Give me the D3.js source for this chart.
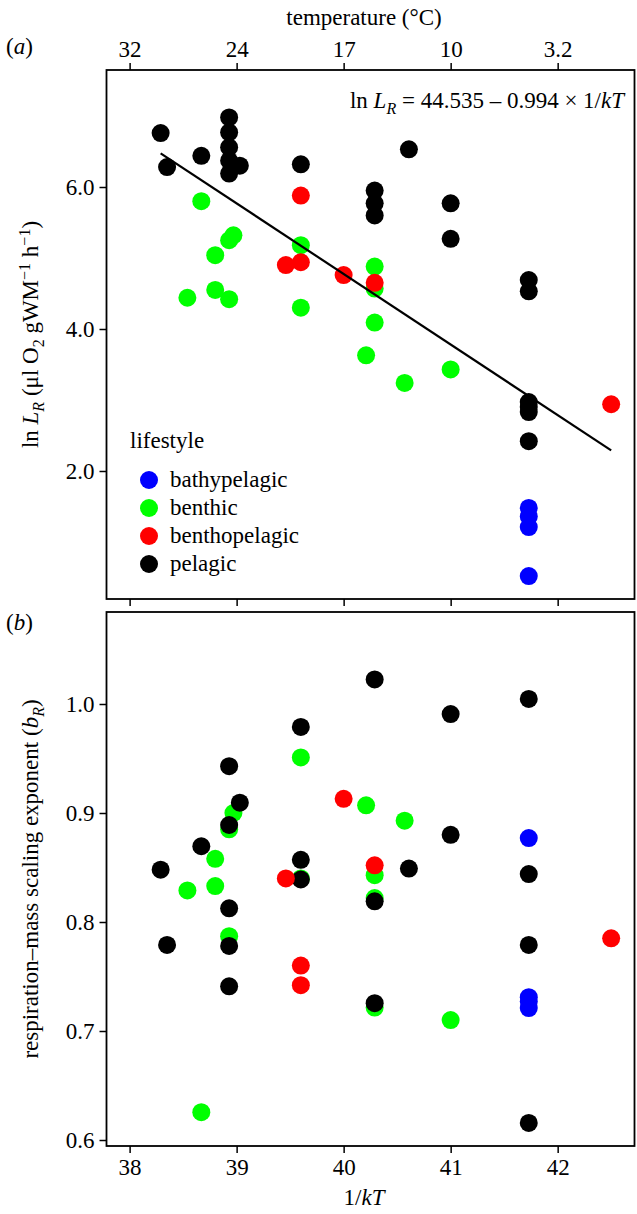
<!DOCTYPE html>
<html><head><meta charset="utf-8">
<script src="https://cdn.jsdelivr.net/npm/d3@7"></script>
<style>body{margin:0;background:#fff}svg{display:block}text{font-family:"Liberation Serif","Times New Roman",serif;fill:#000}</style>
</head><body>
<script>
// ---------- data ----------
const lifestyles = ["bathypelagic","benthic","benthopelagic","pelagic"];
const lifestyleColors = ["#0000ff","#00ff00","#ff0000","#000000"];
const xTicks = [38,39,40,41,42];
const tempTickLabels = ["32","24","17","10","3.2"];
const lnTicks = [2.0,4.0,6.0];
const bTicks = [0.6,0.7,0.8,0.9,1.0];
const fitIntercept = 44.535, fitSlope = -0.994;

// panel a: ln L_R
const bathyXA = [41.73,41.73,41.73,41.73];
const bathyLnL = [1.48,1.36,1.21,0.52];
const benthicXA = [38.54,38.67,38.80,38.80,38.93,38.93,38.97,39.60,39.60,40.21,40.29,40.29,40.29,40.57,41.00];
const benthicLnL = [4.44,5.80,5.04,4.55,5.25,4.42,5.32,5.18,4.30,3.63,4.88,4.57,4.09,3.24,3.43];
const benthoXA = [39.46,39.60,39.60,40.00,40.29,42.50];
const benthoLnL = [4.90,5.88,4.94,4.76,4.65,2.94];
const pelagicXA = [38.29,38.35,38.67,38.93,38.93,38.93,38.93,38.93,39.03,39.60,40.29,40.29,40.29,40.61,41.00,41.00,41.73,41.73,41.73,41.73,41.73,41.73];
const pelagicLnL = [6.76,6.28,6.44,6.98,6.77,6.56,6.37,6.19,6.30,6.32,5.95,5.77,5.60,6.53,5.77,5.27,4.69,4.53,2.97,2.90,2.83,2.42];

// panel b: b_R
const bathyXB = [41.73,41.73,41.73,41.73];
const bathyB = [0.877,0.731,0.727,0.721];
const benthicXB = [38.54,38.67,38.80,38.80,38.93,38.93,38.97,39.60,39.60,40.21,40.29,40.29,40.29,40.57,41.00];
const benthicB = [0.829,0.6255,0.858,0.833,0.885,0.787,0.900,0.951,0.840,0.907,0.843,0.822,0.7215,0.893,0.710];
const benthoXB = [39.46,39.60,39.60,40.00,40.29,42.50];
const benthoB = [0.840,0.760,0.742,0.913,0.852,0.785];
const pelagicXB = [40.29,41.73,41.00,39.60,38.93,39.03,38.93,38.67,41.00,39.60,39.60,38.29,40.61,41.73,38.93,40.29,38.93,38.35,41.73,38.93,40.29,41.73];
const pelagicB = [1.0225,1.0046,0.9908,0.979,0.943,0.9095,0.889,0.8695,0.880,0.857,0.839,0.848,0.849,0.844,0.8126,0.819,0.778,0.779,0.779,0.741,0.7255,0.6157];

// ---------- layout ----------
const W = 637, H = 1214;
const left = 106.5, right = 634.5;
const aTop = 70, aBot = 599, bTop = 612, bBot = 1146;
const R = 9, FS = 23, SUB = 16;

const svg = d3.select("body").append("svg").attr("width", W).attr("height", H);

const x = d3.scaleLinear().domain([37.784, 42.718]).range([left, right]);
const yA = d3.scaleLinear().domain([0.197, 7.648]).range([aBot, aTop]);
const yB = d3.scaleLinear().domain([0.5945, 1.0844]).range([bBot, bTop]);

function styleAxis(g){
  g.select(".domain").remove();
  g.selectAll(".tick line").attr("stroke","#000").attr("stroke-width",1.5);
  g.selectAll(".tick text").style("font-size", FS+"px").style("font-family",'"Liberation Serif",serif').attr("fill","#000");
}

// Panel a axes
svg.append("g").attr("transform",`translate(0,${aTop})`)
  .call(d3.axisTop(x).tickValues(xTicks).tickSize(7).tickPadding(6).tickFormat((d,i)=>tempTickLabels[i]))
  .call(styleAxis);
svg.append("g").attr("transform",`translate(0,${aBot})`)
  .call(d3.axisBottom(x).tickValues(xTicks).tickSize(7).tickFormat(""))
  .call(styleAxis);
svg.append("g").attr("transform",`translate(${left},0)`)
  .call(d3.axisLeft(yA).tickValues(lnTicks).tickSize(7).tickPadding(5).tickFormat(d3.format(".1f")))
  .call(styleAxis);

// Panel b axes
svg.append("g").attr("transform",`translate(0,${bBot})`)
  .call(d3.axisBottom(x).tickValues(xTicks).tickSize(7).tickPadding(6).tickFormat(d3.format("d")))
  .call(styleAxis);
svg.append("g").attr("transform",`translate(${left},0)`)
  .call(d3.axisLeft(yB).tickValues(bTicks).tickSize(7).tickPadding(5).tickFormat(d3.format(".1f")))
  .call(styleAxis);

// boxes
[[aTop,aBot],[bTop,bBot]].forEach(([t,b])=>{
  svg.append("rect").attr("x",left).attr("y",t).attr("width",right-left).attr("height",b-t)
    .attr("fill","none").attr("stroke","#000").attr("stroke-width",1.8);
});

// points
function drawPoints(xs, ys, yScale, color){
  svg.append("g").selectAll("circle").data(xs.map((v,i)=>[v,ys[i]])).join("circle")
    .attr("cx",d=>x(d[0])).attr("cy",d=>yScale(d[1])).attr("r",R).attr("fill",color);
}
drawPoints(benthicXA, benthicLnL, yA, lifestyleColors[1]);
drawPoints(pelagicXA, pelagicLnL, yA, lifestyleColors[3]);
drawPoints(benthoXA, benthoLnL, yA, lifestyleColors[2]);
drawPoints(bathyXA, bathyLnL, yA, lifestyleColors[0]);

drawPoints(benthicXB, benthicB, yB, lifestyleColors[1]);
drawPoints(pelagicXB, pelagicB, yB, lifestyleColors[3]);
drawPoints(benthoXB, benthoB, yB, lifestyleColors[2]);
drawPoints(bathyXB, bathyB, yB, lifestyleColors[0]);

// regression line
const allXA = [].concat(bathyXA, benthicXA, benthoXA, pelagicXA);
const xr = d3.extent(allXA);
svg.append("line")
  .attr("x1",x(xr[0])).attr("y1",yA(fitIntercept+fitSlope*xr[0]))
  .attr("x2",x(xr[1])).attr("y2",yA(fitIntercept+fitSlope*xr[1]))
  .attr("stroke","#000").attr("stroke-width",2.2);

// legend
const lg = svg.append("g");
lg.append("text").attr("x",130).attr("y",448).style("font-size",FS+"px").text("lifestyle");
lifestyles.forEach((n,i)=>{
  const cy = 480 + i*28;
  lg.append("circle").attr("cx",149).attr("cy",cy).attr("r",R).attr("fill",lifestyleColors[i]);
  lg.append("text").attr("x",170).attr("y",cy+7).style("font-size",FS+"px").text(n);
});

// texts
svg.append("text").attr("x",364).attr("y",25).attr("text-anchor","middle").style("font-size",FS+"px").text("temperature (°C)");
function panelLabel(letter, yy){
  const t = svg.append("text").attr("x",6).attr("y",yy).style("font-size",FS+"px");
  t.append("tspan").text("(");
  t.append("tspan").style("font-style","italic").text(letter);
  t.append("tspan").text(")");
}
panelLabel("a", 54);
panelLabel("b", 630);

// equation
const eq = svg.append("text").attr("x",624).attr("y",108).attr("text-anchor","end").style("font-size",FS+"px");
eq.append("tspan").text("ln ");
eq.append("tspan").style("font-style","italic").text("L");
eq.append("tspan").style("font-style","italic").style("font-size",SUB+"px").attr("dy",6).text("R");
eq.append("tspan").attr("dy",-6).text(" = 44.535 \u2013 0.994 \u00d7 1/");
eq.append("tspan").style("font-style","italic").text("kT");

// y label a
const yla = svg.append("text").attr("transform",`translate(38,${(aTop+aBot)/2}) rotate(-90)`).attr("text-anchor","middle").style("font-size",FS+"px");
yla.append("tspan").text("ln ");
yla.append("tspan").style("font-style","italic").text("L");
yla.append("tspan").style("font-style","italic").style("font-size",SUB+"px").attr("dy",6).text("R");
yla.append("tspan").attr("dy",-6).text(" (\u03bcl O");
yla.append("tspan").style("font-size",SUB+"px").attr("dy",6).text("2");
yla.append("tspan").attr("dy",-6).text(" gWM");
yla.append("tspan").style("font-size",SUB+"px").attr("dy",-8).text("\u22121");
yla.append("tspan").attr("dy",8).text(" h");
yla.append("tspan").style("font-size",SUB+"px").attr("dy",-8).text("\u22121");
yla.append("tspan").attr("dy",8).text(")");

// y label b
const ylb = svg.append("text").attr("transform",`translate(38,${(bTop+bBot)/2}) rotate(-90)`).attr("text-anchor","middle").style("font-size",FS+"px");
ylb.append("tspan").text("respiration\u2013mass scaling exponent (");
ylb.append("tspan").style("font-style","italic").text("b");
ylb.append("tspan").style("font-style","italic").style("font-size",SUB+"px").attr("dy",6).text("R");
ylb.append("tspan").attr("dy",-6).text(")");

// x label
const xl = svg.append("text").attr("x",364).attr("y",1205).attr("text-anchor","middle").style("font-size",FS+"px");
xl.append("tspan").text("1/");
xl.append("tspan").style("font-style","italic").text("kT");
</script>
</body></html>
